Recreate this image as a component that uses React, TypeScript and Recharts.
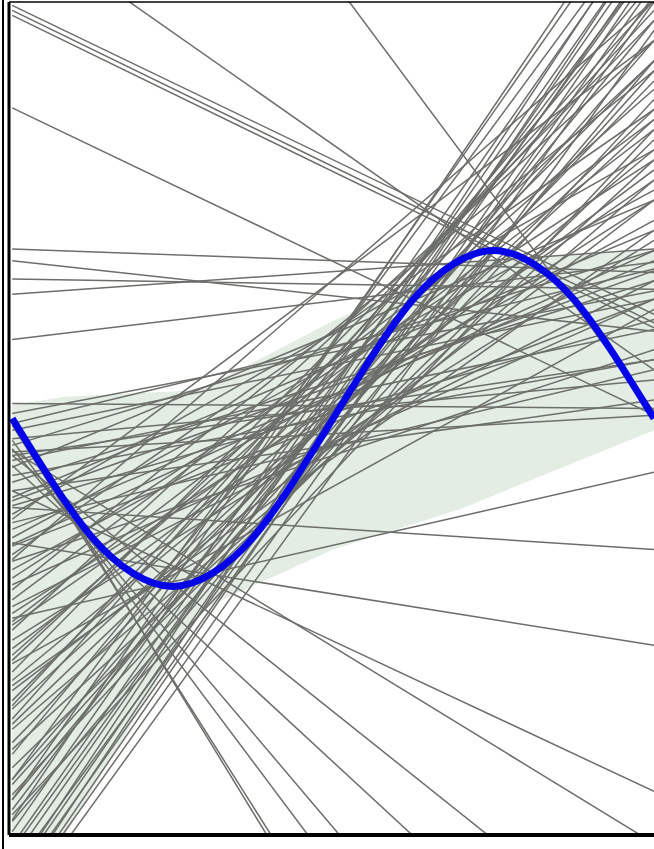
import { ComposedChart, Line, Area, XAxis, YAxis, ReferenceLine } from 'recharts'

// each fitted line: its value at x = -1 (left) and x = 1 (right)
const lineLeft = [
  // falling from the top left
  2.46, 2.43, 2.4, 2.97, 1.85, 5.18,
  // flat-ish upper lines
  1.01, 0.94, 0.83, 0.74, 0.47, 0.09, 0.03, -0.03,
  // rising band through the middle
  -0.07, -0.12, -0.16, -0.2, -0.25, -0.29, -0.34, -0.38, -0.43, -0.47,
  -0.52, -0.57, -0.62, -0.66, -0.71, -0.76, -0.81, -0.85, -0.9, -0.95,
  -1.02, -1.12, -1.16, -1.21, -1.26, -1.32, -1.37, -1.41, -1.46, -1.51,
  -1.56, -1.62, -1.68, -1.73, -1.79, -1.85, -1.93, -2.0, -2.08, -2.15,
  -2.24, -2.33, -2.4,
  -1.08, -1.23, -1.44, -1.59, -1.71, -1.82, -1.97, -2.18, -2.27, -2.36,
  -0.49, -0.75, -0.99, -0.22, -0.84, -0.6,
  // steep bundle
  -2.46, -2.54, -2.73, -2.75, -2.88, -2.9, -2.63, -2.8, -2.27, -2.15,
  -2.57, -2.69, -2.96, -2.39, -2.84,
  // fan to the bottom right
  0.0, -0.04, -0.13, -0.18, -0.28, -0.22, -0.19, -0.43, -0.74, -0.53, -1.19,
]
const lineRight = [
  0.62, 0.57, 0.54, 0.29, 0.02, 0.04,
  0.87, 0.52, 0.77, 1.01, 0.93, 0.06, 0.76, 0.89,
  0.71, 0.23, 1.0, 0.02, 0.53, 1.3, 0.35, 0.82, 0.11, 1.12,
  0.59, 1.6, 0.29, 0.94, 1.36, 0.71, 1.84, 0.41, 1.18, 1.54,
  2.07, 0.82, 1.3, 1.72, 2.25, 1.06, 1.48, 1.96, 0.65, 2.37,
  1.6, 1.3, 2.13, 1.78, 2.49, 1.42, 2.01, 2.61, 1.66, 2.25,
  1.9, 2.73, 2.13,
  1.78, 1.42, 2.13, 1.12, 2.43, 1.84, 1.54, 2.07, 2.37, 1.72,
  0.88, 1.0, 0.71, 0.35, 2.49, 2.25,
  3.0, 2.9, 3.03, 2.77, 2.69, 2.48, 2.84, 2.59, 3.19, 3.04,
  2.73, 2.52, 2.31, 3.27, 2.91,
  -6.25, -6.09, -5.23, -4.69, -3.81, -3.27, -2.53, -2.22, -1.35, -0.78, -0.32,
]

const curveX = [-1, -0.875, -0.75, -0.625, -0.5, -0.375, -0.25, -0.125, 0, 0.125, 0.25, 0.375, 0.5, 0.625, 0.75, 0.875, 1]
const curveY = [0, -0.38, -0.71, -0.92, -1, -0.92, -0.71, -0.38, 0, 0.38, 0.71, 0.92, 1, 0.92, 0.71, 0.38, 0]

const bandX = [-1, -0.835, -0.415, 0, 0.395, 1]
const bandLow = [-2.48, -2.48, -1.14, -0.78, -0.54, -0.07]
const bandHigh = [0.08, 0.13, 0.17, 0.58, 0.93, 1.0]

const curve = curveX.map((x, i) => ({ x, y: curveY[i] }))
const band = bandX.map((x, i) => ({ x, band: [bandLow[i], bandHigh[i]] }))
const fits = lineLeft.slice(0, lineRight.length).map((l, i) => [
  { x: -1, y: l },
  { x: 1, y: lineRight[i] },
])

export default function App() {
  return (
    <div style={{ position: 'absolute', left: 0, top: 0, width: 654, height: 849, background: '#fff', overflow: 'hidden' }}>
      <div style={{ position: 'absolute', left: 2, top: 0, width: 2, height: 849, background: '#000' }} />
      <ComposedChart width={654} height={849} margin={{ top: 2, right: 0, bottom: 14, left: 9 }}>
        <XAxis type="number" dataKey="x" domain={[-1.01, 1]} allowDataOverflow hide />
        <YAxis type="number" domain={[-2.48, 2.48]} allowDataOverflow hide />
        <Area
          data={band}
          dataKey="band"
          type="linear"
          stroke="none"
          fill="#e3ede3"
          fillOpacity={1}
          isAnimationActive={false}
        />
        {fits.map((d, i) => (
          <Line
            key={i}
            data={d}
            dataKey="y"
            type="linear"
            stroke="#6c6e6a"
            strokeWidth={1.5}
            dot={false}
            isAnimationActive={false}
          />
        ))}
        <Line
          data={curve}
          dataKey="y"
          type="natural"
          stroke="#0505e8"
          strokeWidth={7}
          dot={false}
          isAnimationActive={false}
        />
        <ReferenceLine y={2.48} stroke="#000" strokeWidth={1.5} />
        <ReferenceLine y={-2.48} stroke="#000" strokeWidth={4} />
        <ReferenceLine x={-1.01} stroke="#000" strokeWidth={3} />
      </ComposedChart>
    </div>
  )
}
